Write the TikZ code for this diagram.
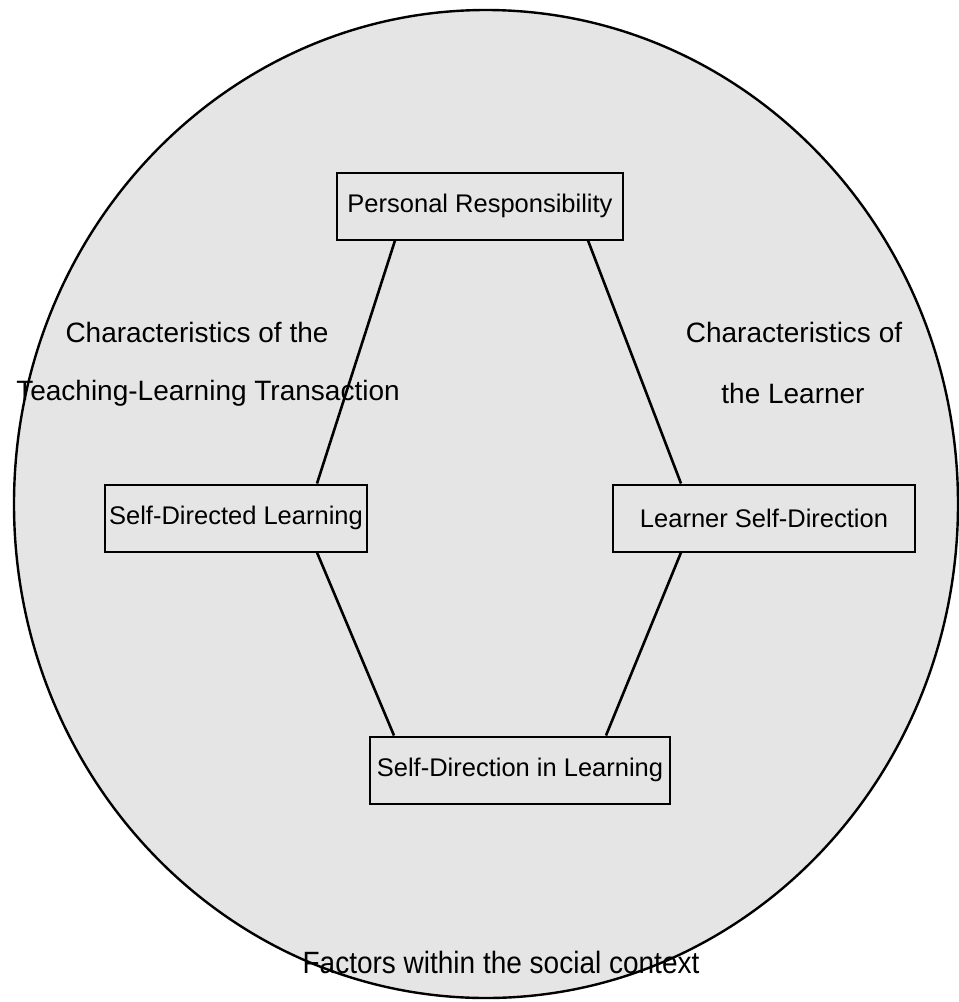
\documentclass[tikz,border=0pt]{standalone}
\usepackage{fontspec}
\setmainfont{Liberation Sans}
\usetikzlibrary{positioning}
\definecolor{raster}{gray}{0.9}
\tikzset{
  kasten/.style={draw, line width=2pt, inner sep=0pt, minimum height=67pt, font=\fontsize{25.5}{30}\selectfont},
  verbindung/.style={line width=2.6pt},
  beschriftung/.style={font=\fontsize{28}{34}\selectfont, inner sep=0pt}
}
\begin{document}
\begin{tikzpicture}[x=1pt, y=-1pt]
		\useasboundingbox (0,0) rectangle (959,1002);
		%kontext
		\draw[line width=2.4pt, fill=raster] (486,504) ellipse [x radius=472, y radius=494];
		%kaesten
		\node[kasten, minimum width=286pt] (pr) at (480,206) {Personal Responsibility};
		\node[kasten, minimum width=262pt] (sdl) at (236,518) {Self-Directed Learning};
		\node[kasten, minimum width=302pt] (lsd) at (764,518) {Learner Self-Direction};
		\node[kasten, minimum width=300pt] (sdil) at (520,770) {Self-Direction in Learning};
		%linien
		\draw[verbindung] ([xshift=59pt]pr.south west) -- ([xshift=-51pt]sdl.north east);
		\draw[verbindung] ([xshift=-36pt]pr.south east) -- ([xshift=69pt]lsd.north west);
		\draw[verbindung] ([xshift=-51pt]sdl.south east) -- ([xshift=25pt]sdil.north west);
		\draw[verbindung] ([xshift=69pt]lsd.south west) -- ([xshift=-65pt]sdil.north east);
		%texte
		\node[beschriftung] (tl1) at (197,332) {Characteristics of the};
		\node[beschriftung] (tl2) at (208,393) {Teaching-Learning Transaction};
		\node[beschriftung] (le1) at (794,332) {Characteristics of};
		\node[beschriftung] (le2) at (793,393) {the Learner};
		\node[beschriftung, yscale=1.1] (ctx) at (501,962) {Factors within the social context};
	\end{tikzpicture}
\end{document}
